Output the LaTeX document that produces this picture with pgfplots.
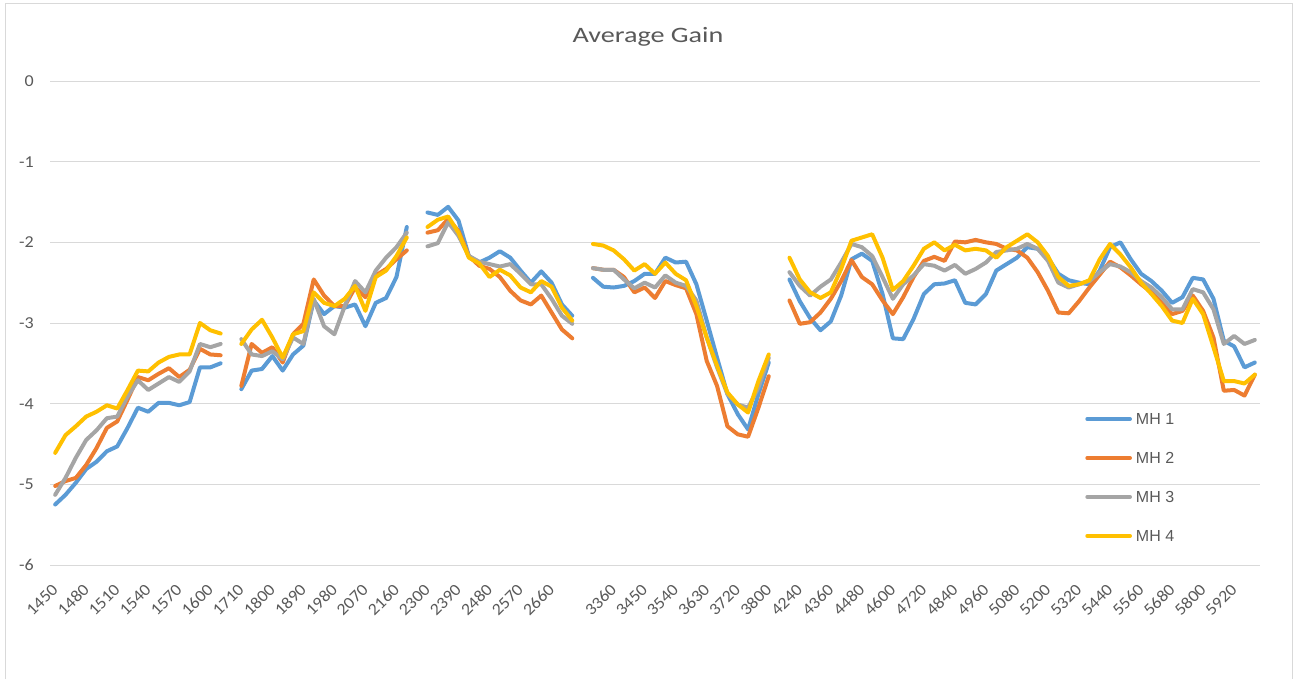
\documentclass[border=0pt]{standalone}
\usepackage{pgfplots}
\pgfplotsset{compat=1.18}
\usepackage{pgfplotstable}
\usepackage{fontspec}
\setmainfont{Carlito}
\newfontfamily\legfont{Liberation Sans}
\newfontfamily\titlefont[FakeStretch=1.28]{Carlito}
\newfontfamily\tickfont[FakeStretch=1.08]{Carlito}
\definecolor{mhblue}{HTML}{5B9BD5}
\definecolor{mhorange}{HTML}{ED7D31}
\definecolor{mhgray}{HTML}{A5A5A5}
\definecolor{mhyellow}{HTML}{FFC000}
\definecolor{gridgray}{HTML}{D9D9D9}
\definecolor{textgray}{HTML}{595959}

\pgfplotstableread{
idx mha mhb mhc mhd
0 -5.25 -5.02 -5.13 -4.61
1 -5.13 -4.96 -4.92 -4.39
2 -4.98 -4.92 -4.67 -4.28
3 -4.81 -4.76 -4.45 -4.16
4 -4.72 -4.55 -4.33 -4.10
5 -4.59 -4.30 -4.18 -4.02
6 -4.53 -4.22 -4.16 -4.06
7 -4.30 -3.95 -3.91 -3.83
8 -4.05 -3.67 -3.71 -3.59
9 -4.10 -3.71 -3.83 -3.60
10 -3.99 -3.63 -3.75 -3.49
11 -3.99 -3.56 -3.67 -3.42
12 -4.02 -3.67 -3.73 -3.39
13 -3.98 -3.58 -3.60 -3.39
14 -3.55 -3.32 -3.26 -3.00
15 -3.55 -3.39 -3.30 -3.09
16 -3.50 -3.40 -3.26 -3.13
17 nan nan nan nan
18 -3.82 -3.78 -3.20 -3.26
19 -3.59 -3.26 -3.39 -3.08
20 -3.57 -3.37 -3.41 -2.96
21 -3.41 -3.30 -3.35 -3.18
22 -3.59 -3.49 -3.45 -3.43
23 -3.39 -3.14 -3.18 -3.14
24 -3.28 -3.01 -3.26 -3.10
25 -2.72 -2.46 -2.70 -2.62
26 -2.89 -2.66 -3.04 -2.75
27 -2.79 -2.79 -3.14 -2.79
28 -2.81 -2.79 -2.79 -2.70
29 -2.77 -2.56 -2.48 -2.54
30 -3.04 -2.68 -2.62 -2.85
31 -2.75 -2.41 -2.35 -2.43
32 -2.69 -2.33 -2.19 -2.35
33 -2.43 -2.21 -2.06 -2.17
34 -1.81 -2.10 -1.88 -1.94
35 nan nan nan nan
36 -1.63 -1.88 -2.05 -1.81
37 -1.66 -1.85 -2.01 -1.72
38 -1.56 -1.71 -1.75 -1.68
39 -1.73 -1.86 -1.92 -1.88
40 -2.17 -2.17 -2.17 -2.19
41 -2.25 -2.29 -2.24 -2.26
42 -2.19 -2.33 -2.27 -2.43
43 -2.11 -2.43 -2.30 -2.34
44 -2.19 -2.60 -2.27 -2.41
45 -2.35 -2.72 -2.39 -2.56
46 -2.50 -2.77 -2.52 -2.62
47 -2.36 -2.66 -2.52 -2.48
48 -2.50 -2.87 -2.70 -2.55
49 -2.77 -3.08 -2.91 -2.81
50 -2.91 -3.19 -3.01 -2.97
51 nan nan nan nan
52 -2.44 -2.32 -2.32 -2.02
53 -2.55 -2.34 -2.34 -2.04
54 -2.56 -2.34 -2.34 -2.10
55 -2.54 -2.43 -2.46 -2.21
56 -2.48 -2.62 -2.57 -2.35
57 -2.39 -2.56 -2.50 -2.27
58 -2.39 -2.69 -2.56 -2.39
59 -2.19 -2.48 -2.41 -2.25
60 -2.25 -2.53 -2.50 -2.39
61 -2.24 -2.57 -2.54 -2.47
62 -2.52 -2.89 -2.72 -2.79
63 -2.97 -3.47 -3.18 -3.18
64 -3.43 -3.78 -3.55 -3.53
65 -3.88 -4.28 -3.88 -3.86
66 -4.13 -4.38 -4.01 -4.01
67 -4.32 -4.41 -4.05 -4.11
68 -3.88 -4.05 -3.80 -3.72
69 -3.49 -3.66 -3.43 -3.39
70 nan nan nan nan
71 -2.46 -2.72 -2.37 -2.19
72 -2.73 -3.01 -2.54 -2.46
73 -2.94 -2.99 -2.66 -2.62
74 -3.09 -2.87 -2.55 -2.69
75 -2.98 -2.70 -2.46 -2.62
76 -2.66 -2.48 -2.25 -2.33
77 -2.21 -2.22 -2.02 -1.98
78 -2.14 -2.43 -2.06 -1.94
79 -2.23 -2.52 -2.17 -1.90
80 -2.64 -2.72 -2.43 -2.19
81 -3.19 -2.89 -2.70 -2.59
82 -3.20 -2.68 -2.52 -2.48
83 -2.95 -2.43 -2.41 -2.29
84 -2.64 -2.23 -2.27 -2.08
85 -2.52 -2.18 -2.29 -2.00
86 -2.51 -2.23 -2.35 -2.10
87 -2.47 -1.99 -2.28 -2.03
88 -2.75 -2.00 -2.39 -2.10
89 -2.77 -1.97 -2.33 -2.08
90 -2.64 -2.00 -2.25 -2.10
91 -2.35 -2.02 -2.12 -2.19
92 -2.27 -2.08 -2.10 -2.06
93 -2.19 -2.10 -2.08 -1.98
94 -2.06 -2.19 -2.02 -1.90
95 -2.08 -2.37 -2.08 -2.00
96 -2.19 -2.60 -2.23 -2.17
97 -2.39 -2.87 -2.50 -2.43
98 -2.47 -2.88 -2.56 -2.54
99 -2.50 -2.73 -2.52 -2.52
100 -2.52 -2.56 -2.48 -2.47
101 -2.35 -2.40 -2.37 -2.21
102 -2.06 -2.24 -2.27 -2.02
103 -2.00 -2.31 -2.30 -2.15
104 -2.21 -2.41 -2.37 -2.31
105 -2.39 -2.52 -2.48 -2.50
106 -2.48 -2.62 -2.56 -2.64
107 -2.60 -2.75 -2.68 -2.79
108 -2.75 -2.89 -2.83 -2.97
109 -2.68 -2.85 -2.83 -3.00
110 -2.44 -2.66 -2.58 -2.70
111 -2.46 -2.85 -2.62 -2.89
112 -2.70 -3.18 -2.83 -3.30
113 -3.22 -3.84 -3.26 -3.72
114 -3.29 -3.83 -3.16 -3.72
115 -3.55 -3.90 -3.26 -3.75
116 -3.49 -3.64 -3.21 -3.64
}\datatable

\begin{document}
\begin{tikzpicture}
\useasboundingbox (0pt,0pt) rectangle (970.5pt,509.25pt);
\draw[gridgray, line width=0.75pt] (3.75pt,0pt) -- (3.75pt,506.25pt) -- (969pt,506.25pt) -- (969pt,0pt);
\node[anchor=base, font=\titlefont\fontsize{16.5}{20}\selectfont, text=textgray, inner sep=0pt] at (486pt,477.2pt) {Average Gain};
\begin{axis}[
  at={(37.5pt,85.5pt)}, anchor=south west,
  scale only axis, width=907.5pt, height=363pt,
  xmin=-0.5, xmax=116.5, ymin=-6, ymax=0,
  axis line style={draw=none},
  major tick length=0pt,
  ytick={-6,-5,-4,-3,-2,-1,0},
  yticklabels={-6,-5,-4,-3,-2,-1,0},
  ymajorgrids,
  grid style={color=gridgray, line width=0.75pt},
  xtick={0,3,...,114},
  xticklabels={1450,1480,1510,1540,1570,1600,1710,1800,1890,1980,2070,2160,2300,2390,2480,2570,2660,{},3360,3450,3540,3630,3720,3800,4240,4360,4480,4600,4720,4840,4960,5080,5200,5320,5440,5560,5680,5800,5920},
  xticklabel style={font=\tickfont\fontsize{12.5}{15}\selectfont, text=textgray, inner sep=0pt, anchor=east, yshift=-16.4pt, rotate=45},
  yticklabel style={font=\tickfont\fontsize{12.5}{15}\selectfont, text=textgray, inner sep=0pt, anchor=east, xshift=-12pt},
  unbounded coords=jump,
  every axis plot/.append style={line width=3pt, line join=round, line cap=round},
  legend image code/.code={\draw[#1] (0pt,0pt) -- (32pt,0pt);},
  legend cell align=left,
  legend style={at={(axis description cs:0.8554,0.314)}, anchor=north west, draw=none, fill=none,
    font=\legfont\fontsize{12}{14}\selectfont, text=textgray,
    row sep=20.6pt, column sep=3pt, inner sep=0pt,
    nodes={inner sep=0pt, text height=8.6pt, text depth=0pt}},
]
\addplot[mhblue] table[x=idx, y=mha] {\datatable};
\addplot[mhorange] table[x=idx, y=mhb] {\datatable};
\addplot[mhgray] table[x=idx, y=mhc] {\datatable};
\addplot[mhyellow] table[x=idx, y=mhd] {\datatable};
\legend{MH 1, MH 2, MH 3, MH 4}
\end{axis}
\end{tikzpicture}
\end{document}
